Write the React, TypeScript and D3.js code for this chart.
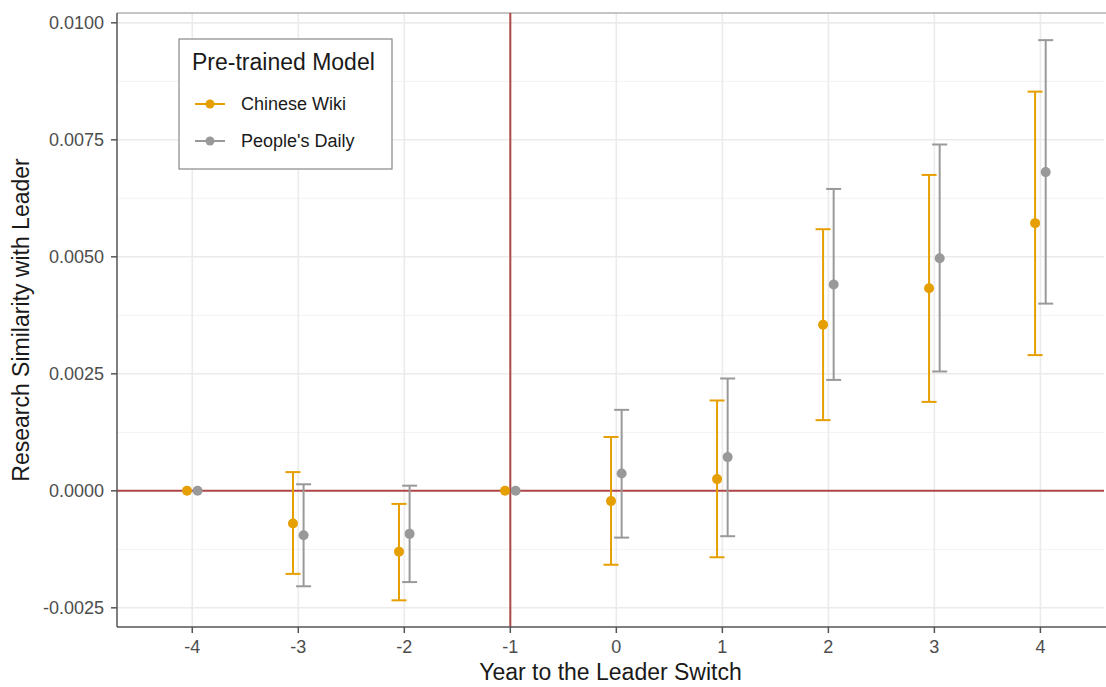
import React from 'react';
import * as d3 from 'd3';

const years = [-4, -3, -2, -1, 0, 1, 2, 3, 4];

const wikiEst = [0, -0.0007, -0.0013, 0, -0.00022, 0.00025, 0.00355, 0.00433, 0.00572];
const wikiLow = [0, -0.001775, -0.00234, 0, -0.00158, -0.00142, 0.00151, 0.0019, 0.0029];
const wikiHigh = [0, 0.0004, -0.00028, 0, 0.00115, 0.00193, 0.00559, 0.00675, 0.00853];

const dailyEst = [0, -0.00095, -0.00092, 0, 0.00037, 0.00072, 0.00441, 0.00497, 0.00681];
const dailyLow = [0, -0.00204, -0.00195, 0, -0.001, -0.00097, 0.00237, 0.00255, 0.004];
const dailyHigh = [0, 0.00014, 0.00011, 0, 0.00173, 0.0024, 0.00645, 0.0074, 0.00963];

const yTicks = [-0.0025, 0, 0.0025, 0.005, 0.0075, 0.01];
const yMinor = [-0.00125, 0.00125, 0.00375, 0.00625, 0.00875];

const seriesNames = ['Chinese Wiki', "People's Daily"];
const seriesColors = ['#E69F00', '#999999'];

const W = 1106;
const H = 687;
const m = { left: 117, right: 1104, top: 13, bottom: 627 };
const font = "'Liberation Sans', Arial, Helvetica, sans-serif";

// ggplot prints a plain hyphen for negatives
const locale = d3.formatLocale({ decimal: '.', thousands: ',', grouping: [3], currency: ['', ''], minus: '-' });

export default function App() {
  const x = d3.scaleLinear().domain([-4.71, 4.6]).range([m.left, m.right]);
  const y = d3.scaleLinear().domain([-0.00291, 0.01021]).range([m.bottom, m.top]);
  const fmt = locale.format('.4f');

  const series = [
    { est: wikiEst, low: wikiLow, high: wikiHigh, dx: -0.05 },
    { est: dailyEst, low: dailyLow, high: dailyHigh, dx: 0.05 },
  ];

  return (
    <svg width={W} height={H} style={{ position: 'absolute', left: 0, top: 0 }} fontFamily={font}>
      <rect width={W} height={H} fill="#fff" />
      <g>
        {yMinor.map(v => (
          <line key={'mn' + v} x1={m.left} x2={m.right} y1={y(v)} y2={y(v)} stroke="#f2f2f2" strokeWidth={1} />
        ))}
        {yTicks.map(v => (
          <line key={'mj' + v} x1={m.left} x2={m.right} y1={y(v)} y2={y(v)} stroke="#ebebeb" strokeWidth={1.6} />
        ))}
        {years.map(v => (
          <line key={'gx' + v} x1={x(v)} x2={x(v)} y1={m.top} y2={m.bottom} stroke="#ebebeb" strokeWidth={1.6} />
        ))}
      </g>

      <line x1={m.left} x2={W} y1={m.top} y2={m.top} stroke="#b3b3b3" strokeWidth={1.5} />

      {/* reference lines */}
      <line x1={m.left} x2={m.right} y1={y(0)} y2={y(0)} stroke="#a52a2a" strokeOpacity={0.85} strokeWidth={2} />
      <line x1={x(-1)} x2={x(-1)} y1={m.top} y2={m.bottom} stroke="#a52a2a" strokeOpacity={0.85} strokeWidth={2} />

      {series.map((s, i) => (
        <g key={i}>
          {years.map((yr, j) => {
            if (s.low[j] === s.high[j]) return null;
            const cx = x(yr + s.dx);
            return (
              <g key={j} stroke={seriesColors[i]} strokeWidth={2}>
                <line x1={cx} x2={cx} y1={y(s.low[j])} y2={y(s.high[j])} />
                <line x1={cx - 7.5} x2={cx + 7.5} y1={y(s.low[j])} y2={y(s.low[j])} />
                <line x1={cx - 7.5} x2={cx + 7.5} y1={y(s.high[j])} y2={y(s.high[j])} />
              </g>
            );
          })}
          {years.map((yr, j) => (
            <circle key={'p' + j} cx={x(yr + s.dx)} cy={y(s.est[j])} r={5} fill={seriesColors[i]} />
          ))}
        </g>
      ))}

      {/* axes */}
      <line x1={m.left} x2={m.left} y1={m.top} y2={m.bottom} stroke="#555" strokeWidth={1.5} />
      <line x1={m.left} x2={m.right + 2} y1={m.bottom} y2={m.bottom} stroke="#555" strokeWidth={1.5} />
      {yTicks.map(v => (
        <g key={'yt' + v}>
          <line x1={m.left - 6} x2={m.left} y1={y(v)} y2={y(v)} stroke="#555" strokeWidth={1.5} />
          <text x={m.left - 13} y={y(v)} dy="0.36em" textAnchor="end" fontSize={18} fill="#4d4d4d">
            {fmt(v)}
          </text>
        </g>
      ))}
      {years.map(v => (
        <g key={'xt' + v}>
          <line x1={x(v)} x2={x(v)} y1={m.bottom} y2={m.bottom + 6} stroke="#555" strokeWidth={1.5} />
          <text x={x(v)} y={m.bottom + 26} textAnchor="middle" fontSize={18} fill="#4d4d4d">
            {locale.format('d')(v)}
          </text>
        </g>
      ))}
      <text x={(m.left + m.right) / 2} y={680} textAnchor="middle" fontSize={23} fill="#1a1a1a">
        Year to the Leader Switch
      </text>
      <text transform={`translate(29,${(m.top + m.bottom) / 2}) rotate(-90)`} textAnchor="middle" fontSize={23} fill="#1a1a1a">
        Research Similarity with Leader
      </text>

      {/* legend */}
      <g>
        <rect x={179} y={39} width={213} height={130} fill="#fff" stroke="#888" strokeWidth={1.2} />
        <text x={192} y={70} fontSize={23} fill="#1a1a1a">Pre-trained Model</text>
        {seriesNames.map((n, i) => (
          <g key={n} transform={`translate(0,${104 + i * 37})`}>
            <line x1={195} x2={225} y1={0} y2={0} stroke={seriesColors[i]} strokeWidth={2} />
            <circle cx={210} cy={0} r={4.5} fill={seriesColors[i]} />
            <text x={241} y={0} dy="0.36em" fontSize={18} fill="#1a1a1a">{n}</text>
          </g>
        ))}
      </g>
    </svg>
  );
}
